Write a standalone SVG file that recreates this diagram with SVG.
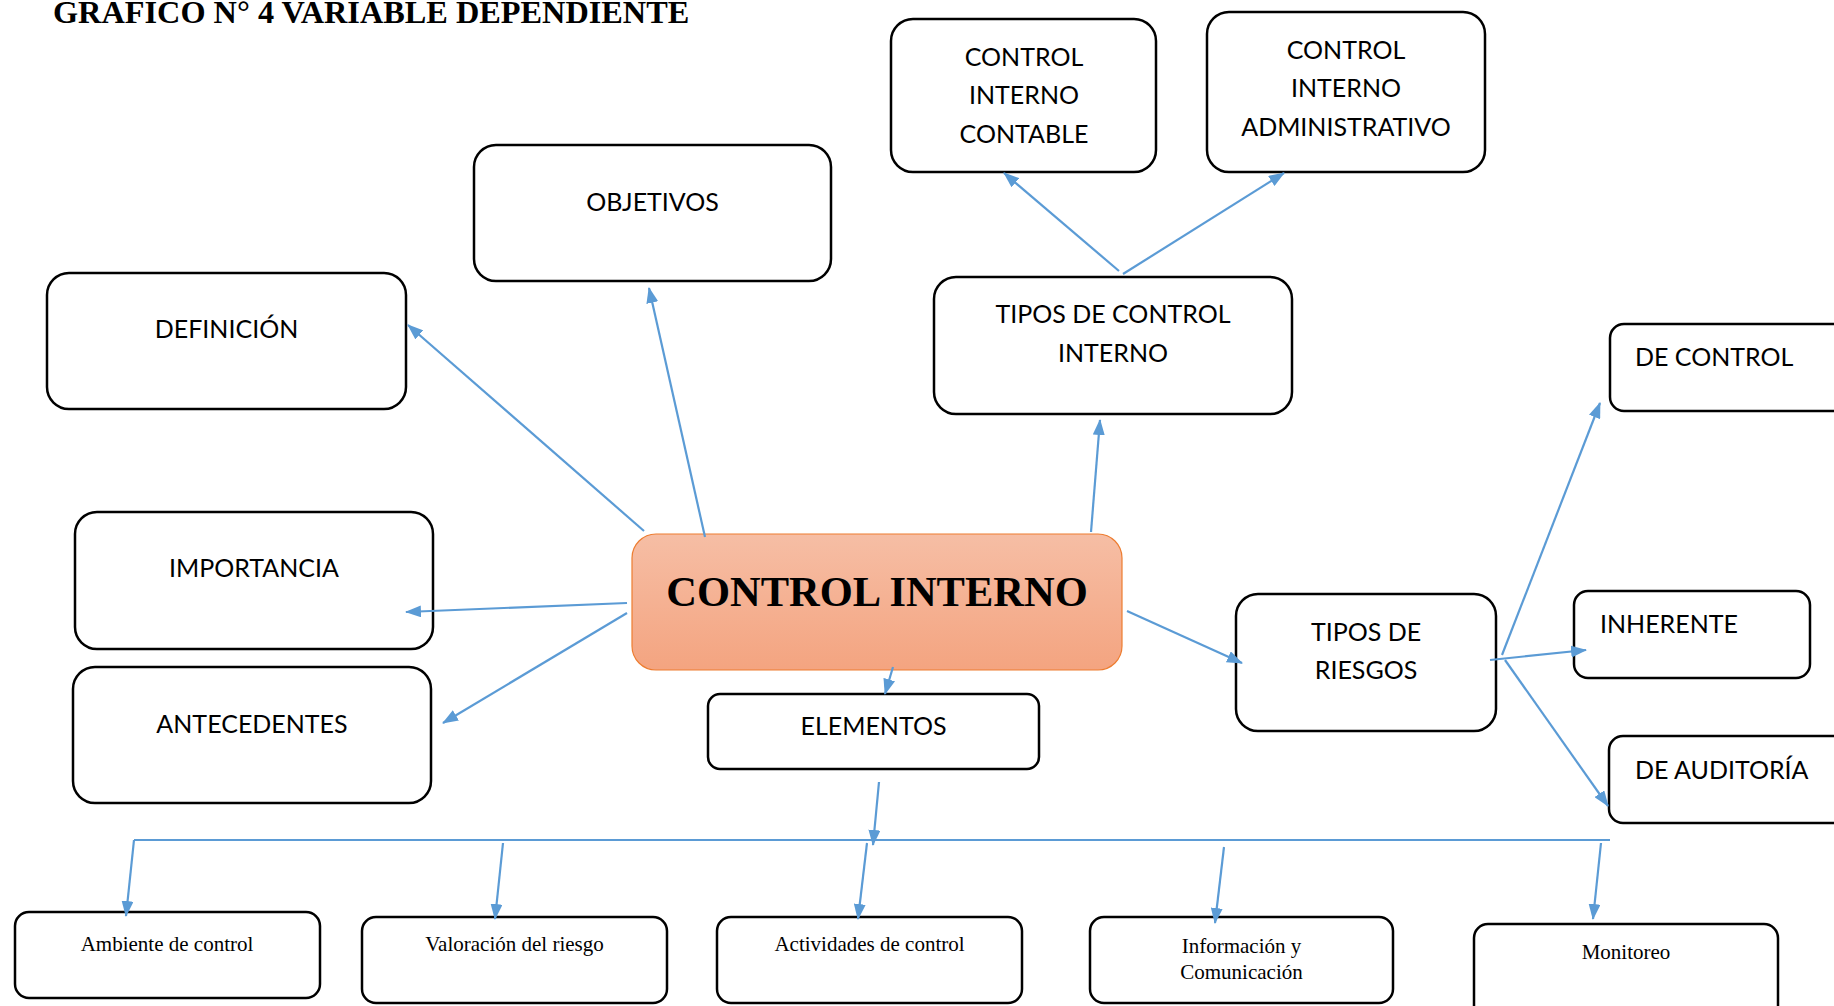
<svg xmlns="http://www.w3.org/2000/svg" width="1834" height="1006" viewBox="0 0 1834 1006">
  <defs>
    <style>
      .box { fill: #ffffff; stroke: #000000; stroke-width: 2.5; }
      .lbl { font-family: Lato, "Open Sans", sans-serif; font-size: 25px; fill: #000000; }
      .mid { text-anchor: middle; }
      .ser { font-family: "Liberation Serif", "Times New Roman", serif; font-size: 21px; fill: #000000; text-anchor: middle; }
      .con { fill: none; stroke: #5B9BD5; stroke-width: 2.2; }
      .arr { marker-end: url(#ah); }
    </style>
    <linearGradient id="coreFill" x1="0" y1="0" x2="0" y2="1">
      <stop offset="0" stop-color="#F6BEA5"/>
      <stop offset="1" stop-color="#F4A480"/>
    </linearGradient>
    <marker id="ah" markerWidth="16" markerHeight="12" refX="15" refY="6" orient="auto" markerUnits="userSpaceOnUse">
      <path d="M0,0 L16,6 L0,12 Z" fill="#5B9BD5"/>
    </marker>
  </defs>

  <rect width="1834" height="1006" fill="#ffffff"/>

  <!-- heading -->
  <text x="53" y="23" font-family="'Liberation Serif', 'Times New Roman', serif" font-weight="bold" font-size="32.3">GRAFICO N° 4 VARIABLE DEPENDIENTE</text>

  <!-- central node -->
  <g id="control-interno">
    <rect x="632" y="534" width="490" height="136" rx="24" fill="url(#coreFill)" stroke="#ED7D31" stroke-width="1.2"/>
    <text x="877" y="606" text-anchor="middle" font-family="'Liberation Serif', 'Times New Roman', serif" font-weight="bold" font-size="42.5">CONTROL INTERNO</text>
  </g>

  <g id="definicion">
    <rect class="box" x="47" y="273" width="359" height="136" rx="22"/>
    <text class="lbl mid" x="226.5" y="338">DEFINICIÓN</text>
  </g>

  <g id="objetivos">
    <rect class="box" x="474" y="145" width="357" height="136" rx="22"/>
    <text class="lbl mid" x="652.5" y="211">OBJETIVOS</text>
  </g>

  <g id="importancia">
    <rect class="box" x="75" y="512" width="358" height="137" rx="22"/>
    <text class="lbl mid" x="254" y="577">IMPORTANCIA</text>
  </g>

  <g id="antecedentes">
    <rect class="box" x="73" y="667" width="358" height="136" rx="22"/>
    <text class="lbl mid" x="252" y="733">ANTECEDENTES</text>
  </g>

  <g id="tipos-control">
    <rect class="box" x="934" y="277" width="358" height="137" rx="22"/>
    <text class="lbl mid" x="1113" y="323">TIPOS DE CONTROL</text>
    <text class="lbl mid" x="1113" y="362">INTERNO</text>
  </g>

  <g id="ci-contable">
    <rect class="box" x="891" y="19" width="265" height="153" rx="22"/>
    <text class="lbl mid" x="1024" y="66">CONTROL</text>
    <text class="lbl mid" x="1024" y="104">INTERNO</text>
    <text class="lbl mid" x="1024" y="143">CONTABLE</text>
  </g>

  <g id="ci-administrativo">
    <rect class="box" x="1207" y="12" width="278" height="160" rx="22"/>
    <text class="lbl mid" x="1346" y="59">CONTROL</text>
    <text class="lbl mid" x="1346" y="97">INTERNO</text>
    <text class="lbl mid" x="1346" y="136">ADMINISTRATIVO</text>
  </g>

  <g id="elementos">
    <rect class="box" x="708" y="694" width="331" height="75" rx="12"/>
    <text class="lbl mid" x="873.5" y="735">ELEMENTOS</text>
  </g>

  <g id="tipos-riesgos">
    <rect class="box" x="1236" y="594" width="260" height="137" rx="22"/>
    <text class="lbl mid" x="1366" y="641">TIPOS DE</text>
    <text class="lbl mid" x="1366" y="679">RIESGOS</text>
  </g>

  <g id="de-control">
    <rect class="box" x="1610" y="324" width="280" height="87" rx="14"/>
    <text class="lbl" x="1635" y="366">DE CONTROL</text>
  </g>

  <g id="inherente">
    <rect class="box" x="1574" y="591" width="236" height="87" rx="14"/>
    <text class="lbl" x="1600" y="633">INHERENTE</text>
  </g>

  <g id="de-auditoria">
    <rect class="box" x="1609" y="736" width="280" height="87" rx="14"/>
    <text class="lbl" x="1635" y="779">DE AUDITORÍA</text>
  </g>

  <g id="ambiente">
    <rect class="box" x="15" y="912" width="305" height="86" rx="14"/>
    <text class="ser" x="167" y="951">Ambiente de control</text>
  </g>

  <g id="valoracion">
    <rect class="box" x="362" y="917" width="305" height="86" rx="14"/>
    <text class="ser" x="514.5" y="951">Valoración del riesgo</text>
  </g>

  <g id="actividades">
    <rect class="box" x="717" y="917" width="305" height="86" rx="14"/>
    <text class="ser" x="869.5" y="951">Actividades de control</text>
  </g>

  <g id="informacion">
    <rect class="box" x="1090" y="917" width="303" height="86" rx="14"/>
    <text class="ser" x="1241.5" y="953">Información y</text>
    <text class="ser" x="1241.5" y="979">Comunicación</text>
  </g>

  <g id="monitoreo">
    <rect class="box" x="1474" y="924" width="304" height="100" rx="14"/>
    <text class="ser" x="1626" y="959">Monitoreo</text>
  </g>

  <!-- connectors, drawn above the boxes so arrowheads stay visible -->
  <g id="connectors">
    <line class="con arr" x1="644" y1="531" x2="408" y2="325"/>
    <line class="con arr" x1="705" y1="537" x2="649" y2="288"/>
    <line class="con arr" x1="1091" y1="532" x2="1100" y2="420"/>
    <line class="con arr" x1="1119" y1="271" x2="1004" y2="173"/>
    <line class="con arr" x1="1123" y1="274" x2="1284" y2="173"/>
    <line class="con arr" x1="627" y1="603" x2="406" y2="612" stroke-width="2.8"/>
    <line class="con arr" x1="627" y1="613" x2="443" y2="723"/>
    <line class="con arr" x1="893" y1="667" x2="885" y2="694"/>
    <line class="con arr" x1="1127" y1="611" x2="1242" y2="663"/>
    <line class="con arr" x1="1502" y1="655" x2="1600" y2="403"/>
    <line class="con arr" x1="1490" y1="660" x2="1586" y2="650"/>
    <line class="con arr" x1="1505" y1="660" x2="1608" y2="806"/>
    <line class="con arr" x1="879" y1="782" x2="873" y2="845"/>
    <line class="con" x1="134" y1="840" x2="1610" y2="840" stroke-width="1.6"/>
    <line class="con arr" x1="134" y1="840" x2="126" y2="916"/>
    <line class="con arr" x1="503" y1="843" x2="495" y2="919"/>
    <line class="con arr" x1="867" y1="843" x2="858" y2="919"/>
    <line class="con arr" x1="1224" y1="847" x2="1215" y2="923"/>
    <line class="con arr" x1="1601" y1="843" x2="1593" y2="919"/>
  </g>
</svg>
